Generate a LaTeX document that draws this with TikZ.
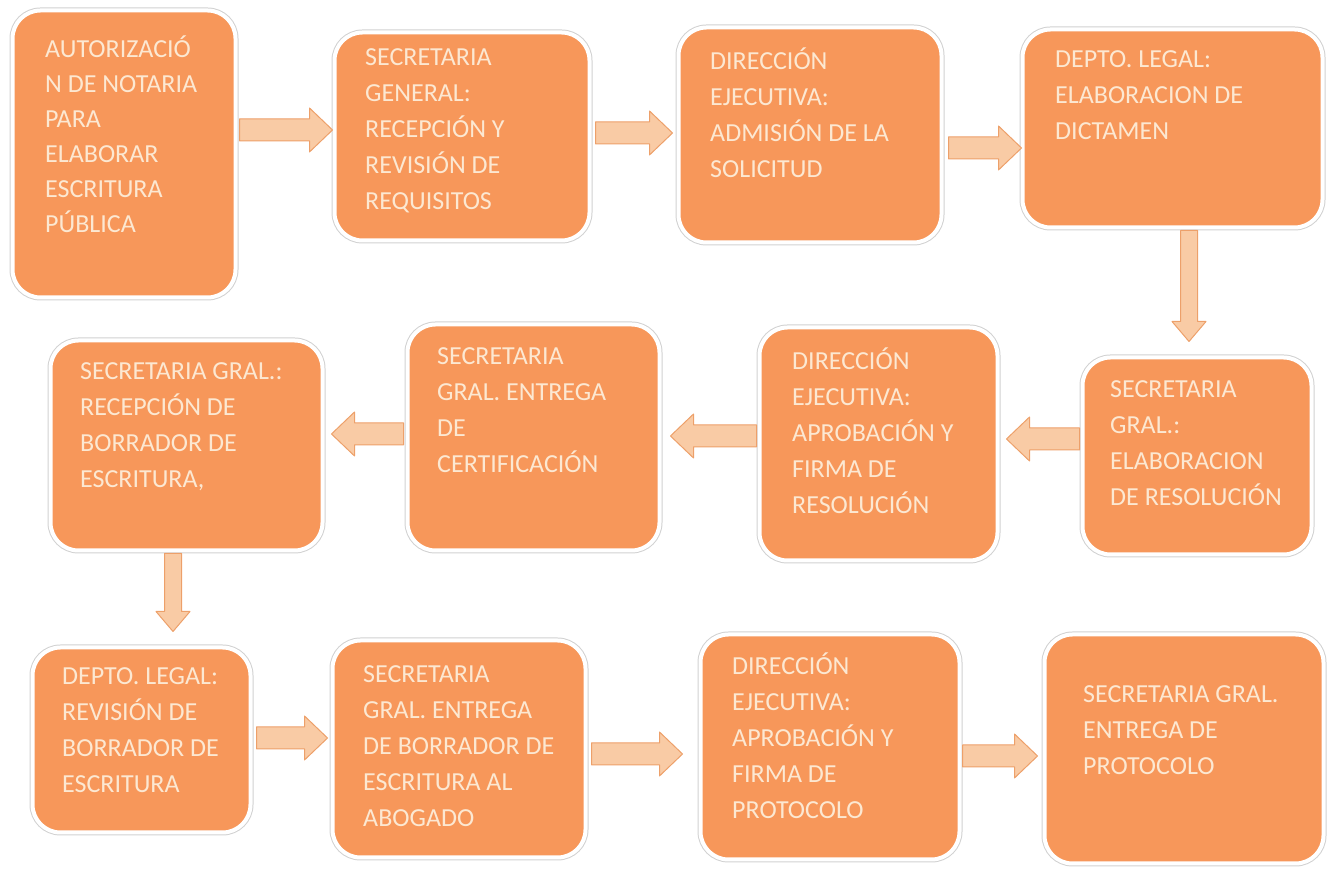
\documentclass[tikz,border=0pt]{standalone}
\usepackage{fontspec}
\setmainfont{Carlito}
\usepackage{tikz}
\usetikzlibrary{positioning, calc}

\definecolor{naranja}{HTML}{F7975A}
\definecolor{crema}{HTML}{FCE8D2}
\definecolor{melocoton}{HTML}{F9CBA5}
\definecolor{borde}{HTML}{EDA06A}

\tikzset{
  caja/.style={rounded corners=28pt, fill=naranja, draw=white, line width=4pt,
    preaction={draw=black!18, line width=6pt}, inner sep=0pt},
  texto/.style={anchor=base west, inner sep=0pt, align=left, text=crema,
    font=\fontsize{26}{36}\selectfont},
  flecha/.style={fill=melocoton, draw=borde, line width=1pt, line join=round}
}

% flecha horizontal: de #1 a #2 a la altura #3
\newcommand{\flechah}[3]{%
  \draw[flecha] let \p1=(#1), \p2=(#2), \n1={sign(\x2-\x1)} in
    (\x1,{#3+11}) -- ({\x2-\n1*23},{#3+11}) -- ({\x2-\n1*23},{#3+22}) -- (\x2,#3)
    -- ({\x2-\n1*23},{#3-22}) -- ({\x2-\n1*23},{#3-11}) -- (\x1,{#3-11}) -- cycle;}
% flecha vertical: de #1 a #2 en la abscisa #3
\newcommand{\flechav}[3]{%
  \draw[flecha] let \p1=(#1), \p2=(#2), \n1={sign(\y2-\y1)} in
    ({#3-8.5},\y1) -- ({#3-8.5},{\y2-\n1*20}) -- ({#3-17},{\y2-\n1*20}) -- (#3,\y2)
    -- ({#3+17},{\y2-\n1*20}) -- ({#3+8.5},{\y2-\n1*20}) -- ({#3+8.5},\y1) -- cycle;}

\begin{document}
\begin{tikzpicture}[x=1pt, y=1pt]
  \useasboundingbox (0,0) rectangle (1334,872);

  % fila de arriba
  \node[caja, minimum width=223, minimum height=287] (b1) at (124,718) {};
  \node[caja, minimum width=255, minimum height=208] (b2) at (462,735.5) {};
  \node[caja, minimum width=263, minimum height=215] (b3) at (810,737) {};
  \node[caja, minimum width=300, minimum height=198] (b4) at (1172.5,743.5) {};
  % fila del medio
  \node[caja, minimum width=229, minimum height=197] (b5) at (1197,416) {};
  \node[caja, minimum width=238, minimum height=233] (b6) at (878.5,428) {};
  \node[caja, minimum width=252, minimum height=226] (b7) at (533.5,434.5) {};
  \node[caja, minimum width=272, minimum height=210] (b8) at (186.5,426.5) {};
  % fila de abajo
  \node[caja, minimum width=218, minimum height=185] (b9) at (141.5,132) {};
  \node[caja, minimum width=253, minimum height=217] (b10) at (459,123) {};
  \node[caja, minimum width=259, minimum height=225] (b11) at (830,125) {};
  \node[caja, minimum width=279, minimum height=229] (b12) at (1184,123) {};

  % textos (base de la ultima linea)
  \node[texto, font=\fontsize{26}{35}\selectfont] (t1) at (45,639) {AUTORIZACIÓ\\N DE NOTARIA\\PARA\\ELABORAR\\ESCRITURA\\PÚBLICA};
  \node[texto] (t2) at (365,662) {SECRETARIA\\GENERAL:\\RECEPCIÓN Y\\REVISIÓN DE\\REQUISITOS};
  \node[texto] (t3) at (710,694) {DIRECCIÓN\\EJECUTIVA:\\ADMISIÓN DE LA\\SOLICITUD};
  \node[texto] (t4) at (1055,732) {DEPTO. LEGAL:\\ELABORACION DE\\DICTAMEN};
  \node[texto] (t5) at (1110,366) {SECRETARIA\\GRAL.:\\ELABORACION\\DE RESOLUCIÓN};
  \node[texto] (t6) at (792,358) {DIRECCIÓN\\EJECUTIVA:\\APROBACIÓN Y\\FIRMA DE\\RESOLUCIÓN};
  \node[texto] (t7) at (437,399) {SECRETARIA\\GRAL. ENTREGA\\DE\\CERTIFICACIÓN};
  \node[texto] (t8) at (80,384) {SECRETARIA GRAL.:\\RECEPCIÓN DE\\BORRADOR DE\\ESCRITURA,};
  \node[texto] (t9) at (62,79) {DEPTO. LEGAL:\\REVISIÓN DE\\BORRADOR DE\\ESCRITURA};
  \node[texto] (t10) at (363,45) {SECRETARIA\\GRAL. ENTREGA\\DE BORRADOR DE\\ESCRITURA AL\\ABOGADO};
  \node[texto] (t11) at (732,53) {DIRECCIÓN\\EJECUTIVA:\\APROBACIÓN Y\\FIRMA DE\\PROTOCOLO};
  \node[texto] (t12) at (1083,97) {SECRETARIA GRAL.\\ENTREGA DE\\PROTOCOLO};

  \flechah{[xshift=2]b1.east}{b2.west}{742}
  \flechah{[xshift=4]b2.east}{[xshift=-4]b3.west}{739}
  \flechah{[xshift=5]b3.east}{[xshift=1]b4.west}{724}
  \flechav{[yshift=-1]b4.south}{[yshift=14]b5.north}{1189}
  \flechah{[xshift=-1]b5.west}{[xshift=7]b6.east}{433}
  \flechah{[xshift=-1]b6.west}{[xshift=9]b7.east}{436}
  \flechah{[xshift=-2]b7.west}{[xshift=7]b8.east}{438}
  \flechav{[yshift=-1]b8.south}{[yshift=14]b9.north}{173}
  \flechah{[xshift=4]b9.east}{[xshift=-3]b10.west}{134}
  \flechah{[xshift=4]b10.east}{[xshift=-16]b11.west}{118}
  \flechah{[xshift=1]b11.east}{[xshift=-5]b12.west}{116}
\end{tikzpicture}
\end{document}
